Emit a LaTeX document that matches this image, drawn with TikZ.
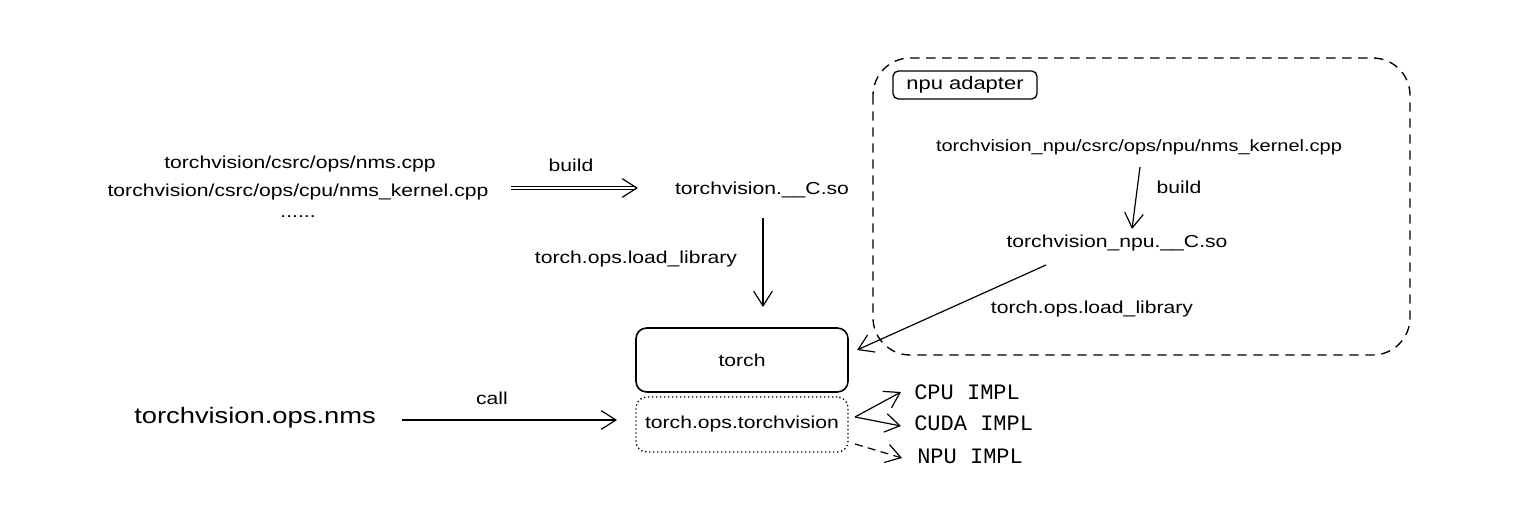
\documentclass[tikz,border=0pt]{standalone}
\usepackage{fontspec}
\setmainfont{Liberation Sans}
\newfontfamily\hand[FakeStretch=1.22]{Liberation Sans}
\newfontfamily\monof{Liberation Mono}
\usetikzlibrary{arrows.meta}
\tikzset{
  lbl/.style={font=\hand\fontsize{13pt}{15pt}\selectfont, inner sep=0pt},
  big/.style={font=\hand\fontsize{16.8pt}{19pt}\selectfont, inner sep=0pt},
  impl/.style={font=\monof\fontsize{16.5pt}{18pt}\selectfont, inner sep=0pt, anchor=west},
  conn/.style={line width=0.9pt, -{Straight Barb[length=11pt,width=14pt,line width=0.9pt]}},
}
\begin{document}
\begin{tikzpicture}[x=0.75pt,y=-0.75pt]
\useasboundingbox[fill=white] (0,0) rectangle (1521,527);
% left sources
\node[lbl] (src1) at (300,164) {torchvision/csrc/ops/nms.cpp};
\node[lbl] (src2) at (298,192) {torchvision/csrc/ops/cpu/nms\_kernel.cpp};
\node[lbl] (src3) at (298,217) {......};
\coordinate (bs) at (511,188);
\node[lbl] (so) at (762,190) {torchvision.\_\_C.so};
\coordinate (be) at (638,188);
\draw[line width=0.7pt, double distance=1.6pt, -{Straight Barb[length=11pt,width=14pt,line width=0.9pt]}] (bs) -- (be);
\node[lbl] (buildA) at (571,165) {build};
% torch boxes
\node[draw, line width=1.2pt, rounded corners=8pt, minimum width=212*0.75pt, minimum height=64*0.75pt, lbl] (torch) at (742,360) {torch};
\node[draw, dotted, line width=1pt, rounded corners=8pt, minimum width=212*0.75pt, minimum height=55*0.75pt, lbl] (tot) at (742,424.5) {torch.ops.torchvision};
\coordinate (ls) at (763,218);
\coordinate (le) at (763,307);
\draw[conn] (ls) -- (le);
\node[lbl] (ll1) at (636,259) {torch.ops.load\_library};
% call
\node[big] (nms) at (255,418) {torchvision.ops.nms};
\coordinate (cs) at (402,420);
\coordinate (ce) at (617,420);
\draw[conn] (cs) -- (ce);
\node[lbl] (call) at (492,398) {call};
% impls
\node[impl] (cpu) at (914,392) {CPU IMPL};
\node[impl] (cuda) at (914,423) {CUDA IMPL};
\node[impl] (npu) at (917,456) {NPU IMPL};
\coordinate (o1) at (855,417);
\coordinate (o2) at (855,444);
\coordinate (t1) at (901,392);
\coordinate (t2) at (901,426);
\coordinate (t3) at (902,458);
\draw[conn] (o1) -- (t1);
\draw[conn] (o1) -- (t2);
\draw[conn, dash pattern=on 6pt off 4pt] (o2) -- (t3);
% npu adapter group
\draw[dash pattern=on 7pt off 5pt, line width=1pt, rounded corners=28pt] (873,58) rectangle (1410,355);
\node[draw, line width=1pt, rounded corners=4pt, minimum width=144*0.75pt, minimum height=28*0.75pt, inner sep=0pt, font=\hand\fontsize{13.5pt}{15pt}\selectfont] (ad) at (965,85) {npu adapter};
\node[lbl, font=\hand\fontsize{12.3pt}{15pt}\selectfont] (nsrc) at (1139,147) {torchvision\_npu/csrc/ops/npu/nms\_kernel.cpp};
\node[lbl] (nso) at (1117,243) {torchvision\_npu.\_\_C.so};
\coordinate (b2s) at (1140,167);
\coordinate (b2e) at (1132,229);
\draw[conn] (b2s) -- (b2e);
\node[lbl] (buildB) at (1179,187) {build};
\coordinate (l2s) at (1046,265);
\coordinate (l2e) at (857,350);
\draw[conn] (l2s) -- (l2e);
\node[lbl] (ll2) at (1092,309) {torch.ops.load\_library};
\end{tikzpicture}
\end{document}
